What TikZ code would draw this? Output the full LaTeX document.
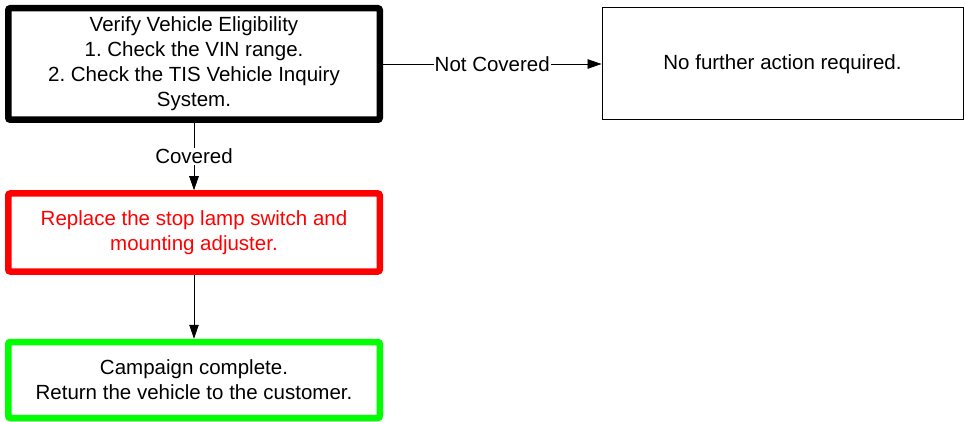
\documentclass[tikz,border=0pt]{standalone}
\usepackage{fontspec}
\setmainfont{Liberation Sans}
\usetikzlibrary{arrows.meta}
\definecolor{boxred}{HTML}{FF0000}
\definecolor{boxgreen}{HTML}{00FF00}
\begin{document}
\frenchspacing
\begin{tikzpicture}[x=1pt,y=-1pt,
  txt/.style={font=\fontsize{20.5}{25}\selectfont, align=center},
  thickbox/.style={txt, draw, line width=6.5pt, rounded corners=2pt, minimum width=371.5pt, inner sep=0pt},
  thinbox/.style={txt, draw, line width=1pt, minimum width=361pt, minimum height=112pt, inner sep=0pt},
  conn/.style={line width=0.8pt, -{Triangle[length=14pt,width=9.5pt]}},
  lbl/.style={txt, fill=white, inner sep=1pt}]
\useasboundingbox (0,0) rectangle (964,422);
\node[thickbox, minimum height=111.5pt] (verify) at (194,64) {\raisebox{-2pt}{\parbox{360pt}{\centering Verify Vehicle Eligibility\\1. Check the VIN range.\\2. Check the TIS Vehicle Inquiry\\System.}}};
\node[thinbox] (none) at (782.5,64) {No further action required.};
\node[thickbox, draw=boxred, text=boxred, minimum height=78pt] (replace) at (194,232.5) {Replace the stop lamp switch and\\mounting adjuster.};
\node[thickbox, draw=boxgreen, minimum height=76pt] (done) at (194,380) {Campaign complete.\\Return the vehicle to the customer.};
\draw[conn] (verify) -- node[lbl] {Not Covered} (none);
\draw[conn] (verify) -- node[lbl, pos=0.5] {Covered} (replace);
\draw[conn] (replace) -- (done);
\end{tikzpicture}
\end{document}
